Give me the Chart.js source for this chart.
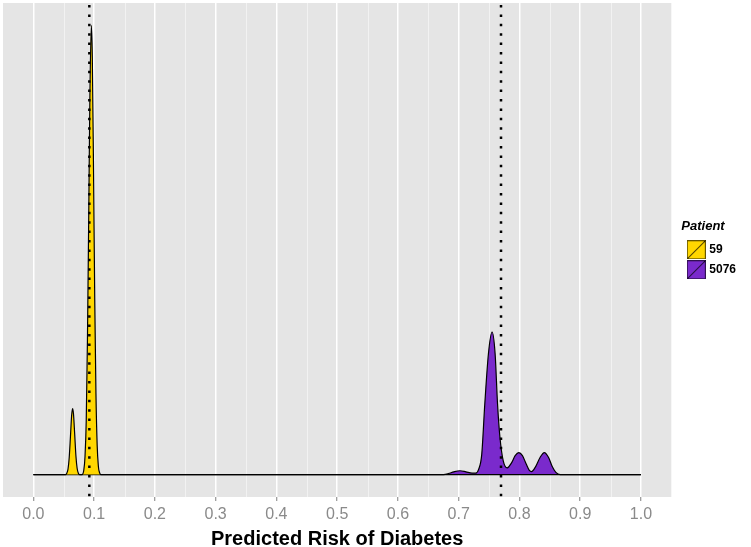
<!DOCTYPE html>
<html>
<head>
<meta charset="utf-8">
<script src="https://cdn.jsdelivr.net/npm/chart.js@4"></script>
<style>
  body { margin: 0; background: #fff; }
  #wrap { width: 751px; height: 547px; }
</style>
</head>
<body>
<div id="wrap"><canvas id="myChart" width="751" height="547"></canvas></div>
<script>
// patients and their colours
const patients = ["59", "5076"];
const colors = ["#FFD700", "#7A2ACC"];
// mean predicted risk (dotted lines)
const meanRisk = [0.0921, 0.7697];

// density curves (arbitrary units, peak ~100)
const risk59 = [0, 0.053, 0.055, 0.057, 0.059, 0.061, 0.063, 0.0646, 0.066, 0.068, 0.070, 0.072, 0.074, 0.076,
  0.080, 0.083, 0.085, 0.087, 0.089, 0.091, 0.093, 0.0954, 0.097, 0.099, 0.101, 0.103, 0.105, 0.107, 0.109, 0.111, 1.0];
const density59 = [0, 0, 0.3, 1.2, 3.8, 8.4, 13.2, 14.7, 13.5, 9.0, 4.2, 1.4, 0.3, 0,
  0, 1.0, 4, 12, 30, 56, 84, 100, 93, 68, 39, 18, 6.5, 1.8, 0.4, 0, 0];

const risk5076 = [0, 0.675, 0.683, 0.692, 0.702, 0.712, 0.722, 0.728, 0.733, 0.738, 0.743, 0.749, 0.755, 0.760,
  0.764, 0.768, 0.7735, 0.780, 0.787, 0.793, 0.799, 0.805, 0.811, 0.816, 0.820, 0.826, 0.834, 0.841, 0.848,
  0.854, 0.860, 0.867, 1.0];
const density5076 = [0, 0, 0.2, 0.6, 0.85, 0.6, 0.3, 0.3, 1.2, 4.5, 15.7, 26.9, 31.7, 26.9,
  15.7, 8.2, 3.0, 1.5, 2.6, 4.2, 4.9, 4.2, 2.4, 1.0, 0.65, 1.6, 3.8, 4.9, 3.8,
  1.8, 0.5, 0, 0];

const tickValues = [0, 0.1, 0.2, 0.3, 0.4, 0.5, 0.6, 0.7, 0.8, 0.9, 1.0];
const minorValues = [0.05, 0.15, 0.25, 0.35, 0.45, 0.55, 0.65, 0.75, 0.85, 0.95];

const xs = [risk59, risk5076];
const ys = [density59, density5076];

// legend key: filled square with a diagonal, like ggplot's density key
function makeKey(color) {
    const c = document.createElement("canvas");
    c.width = 19;
    c.height = 19;
    const k = c.getContext("2d");
    k.fillStyle = color;
    k.fillRect(0, 0, 19, 19);
    k.strokeStyle = "rgba(0,0,0,0.6)";
    k.lineWidth = 1;
    k.strokeRect(0.5, 0.5, 18, 18);
    k.beginPath();
    k.moveTo(0.5, 18.5);
    k.lineTo(18.5, 0.5);
    k.strokeStyle = "#000";
    k.stroke();
    return c;
}

const datasets = patients.map((p, i) => ({
    label: p,
    data: xs[i].map((x, j) => ({x: x, y: ys[i][j]})),
    borderColor: "#000",
    borderWidth: 1.2,
    backgroundColor: colors[i],
    fill: "origin",
    pointRadius: 0,
    pointStyle: makeKey(colors[i]),
    cubicInterpolationMode: "monotone"
}));

const panelBg = {
    id: "panelBg",
    afterLayout(chart) {
        // nudge the legend to where ggplot puts it
        const lg = chart.legend;
        lg.top -= 24;
        lg.bottom -= 24;
        lg.left += 10;
        lg.right += 10;
    },
    beforeDraw(chart) {
        const {ctx, chartArea: a} = chart;
        ctx.save();
        ctx.fillStyle = "#E5E5E5";
        ctx.fillRect(a.left, a.top, a.right - a.left, a.bottom - a.top);
        ctx.restore();
    },
    beforeDatasetsDraw(chart) {
        const {ctx, chartArea: a, scales: {x}} = chart;
        ctx.save();
        ctx.strokeStyle = "#F2F2F2";
        ctx.lineWidth = 1;
        minorValues.forEach(v => {
            const px = Math.round(x.getPixelForValue(v)) + 0.5;
            ctx.beginPath();
            ctx.moveTo(px, a.top);
            ctx.lineTo(px, a.bottom);
            ctx.stroke();
        });
        ctx.restore();
    },
    afterDatasetsDraw(chart) {
        const {ctx, chartArea: a, scales: {x}} = chart;
        ctx.save();
        ctx.strokeStyle = "#000";
        ctx.lineWidth = 2.5;
        ctx.setLineDash([2.5, 6.9]);
        meanRisk.forEach(v => {
            const px = x.getPixelForValue(v);
            ctx.beginPath();
            ctx.moveTo(px, a.top + 2);
            ctx.lineTo(px, a.bottom);
            ctx.stroke();
        });
        ctx.restore();
    }
};

new Chart(document.getElementById("myChart"), {
    type: "line",
    data: {datasets: datasets},
    options: {
        responsive: false,
        animation: false,
        layout: {padding: {left: 3, top: 3, right: 15, bottom: -2}},
        plugins: {
            tooltip: {enabled: false},
            legend: {
                position: "right",
                title: {
                    display: true,
                    text: "Patient",
                    color: "#000",
                    position: "start",
                    font: {family: "Liberation Sans", size: 13, weight: "bold", style: "italic"},
                    padding: 0
                },
                labels: {
                    usePointStyle: true,
                    pointStyleWidth: 14,
                    color: "#000",
                    padding: 8,
                    font: {family: "Liberation Sans", size: 12, weight: "bold"}
                }
            }
        },
        scales: {
            x: {
                type: "linear",
                min: -0.05,
                max: 1.05,
                afterBuildTicks: s => { s.ticks = tickValues.map(v => ({value: v})); },
                border: {display: false},
                grid: {color: "#FFFFFF", lineWidth: 1.5, tickColor: "#7F7F7F", tickLength: 4, tickWidth: 1},
                ticks: {
                    color: "#8A8A8A",
                    padding: 6,
                    maxRotation: 0,
                    autoSkip: false,
                    font: {family: "Liberation Sans", size: 16, lineHeight: 1.0},
                    callback: v => v.toFixed(1)
                },
                title: {
                    display: true,
                    text: "Predicted Risk of Diabetes",
                    color: "#000",
                    font: {family: "Liberation Sans", size: 20, weight: "bold", lineHeight: 1.0},
                    padding: {top: 0, bottom: 0}
                }
            },
            y: {
                display: false,
                min: -5,
                max: 105
            }
        }
    },
    plugins: [panelBg]
});
</script>
</body>
</html>
